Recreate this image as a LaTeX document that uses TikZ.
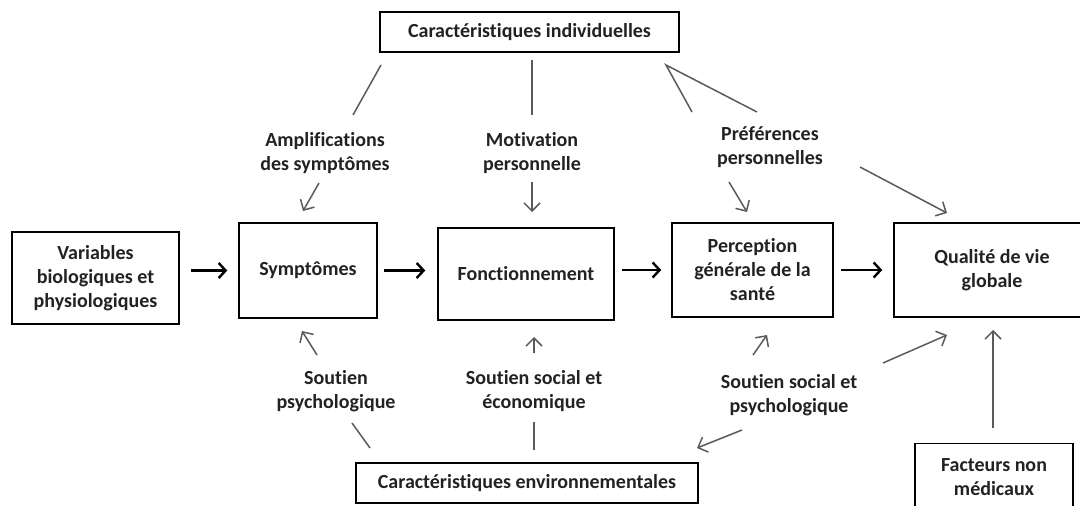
\documentclass[tikz,border=0pt]{standalone}
\usepackage{fontspec}
\setmainfont[Ligatures=NoCommon]{Carlito}
\usetikzlibrary{arrows.meta}
\definecolor{linegray}{HTML}{5A5A5A}
\definecolor{textcol}{HTML}{222222}
\tikzset{
  box/.style={draw=black, line width=1.4pt, fill=white, align=center, inner sep=2pt, text=textcol, font=\fontsize{20}{24}\selectfont\bfseries},
  lbl/.style={align=center, inner sep=1pt, text=textcol, font=\fontsize{20}{23.5}\selectfont\bfseries},
  blackarrow/.style={draw=black, line width=2.4pt, -{Straight Barb[length=7pt,width=15pt,line width=2.4pt]}},
  grayline/.style={draw=linegray, line width=1.5pt},
  grayarrow/.style={draw=linegray, line width=1.5pt, -{Straight Barb[length=8pt,width=16pt,line width=1.5pt]}}
}
\begin{document}
\begin{tikzpicture}[x=1pt,y=-1pt]
\useasboundingbox (0,0) rectangle (1080,506);
\clip (0,0) rectangle (1080,506);
% boxes
\node[box, minimum width=299pt, minimum height=40pt] (indiv) at (529.5,32) {Caractéristiques individuelles};
\node[box, minimum width=167pt, minimum height=92pt] (var) at (95.5,278) {Variables\\biologiques et\\physiologiques};
\node[box, minimum width=138pt, minimum height=95pt] (sym) at (308,270.5) {Symptômes};
\node[box, minimum width=176pt, minimum height=92pt] (fonc) at (526,274) {Fonctionnement};
\node[box, minimum width=161pt, minimum height=94pt] (perc) at (752.5,270) {Perception\\générale de la\\santé};
\node[box, minimum width=196pt, minimum height=94pt] (qual) at (992,270) {Qualité de vie\\globale};
\node[box, minimum width=342pt, minimum height=40pt] (env) at (527,483) {Caractéristiques environnementales};
\node[box, minimum width=158pt, minimum height=80pt, anchor=north] (fact) at (994,443) {};
\node[lbl] (facttxt) at (994,477) {Facteurs non\\médicaux};
% labels
\node[lbl] (ampl) at (325,153) {Amplifications\\des symptômes};
\node[lbl] (motiv) at (532,153) {Motivation\\personnelle};
\node[lbl] (pref) at (770,147) {Préférences\\personnelles};
\node[lbl] (soutpsy) at (336,391) {Soutien\\psychologique};
\node[lbl] (soutse) at (534,391) {Soutien social et\\économique};
\node[lbl] (soutsp) at (789,395) {Soutien social et\\psychologique};
% black arrows
\draw[blackarrow, shorten <=11pt, shorten >=11pt] (var.east |- sym.west) -- (sym.west);
\draw[blackarrow, shorten <=6pt, shorten >=12pt] (sym.east) -- (fonc.west |- sym.east);
\draw[blackarrow, shorten <=7pt, shorten >=10pt] (fonc.east |- perc.west) -- (perc.west);
\draw[blackarrow, shorten <=7pt, shorten >=11pt] (perc.east) -- (qual.west);
% connector end points
\coordinate (a1) at (381,65);  \coordinate (a2) at (353,115);
\coordinate (a3) at (319,183); \coordinate (a4) at (303,211);
\coordinate (m1) at (532,60);  \coordinate (m2) at (532,115);
\coordinate (m3) at (532,182); \coordinate (m4) at (532,212);
\coordinate (p0) at (666,65);  \coordinate (p1) at (692,112); \coordinate (p2) at (757,112);
\coordinate (p3) at (729,182); \coordinate (p4) at (747,212);
\coordinate (p5) at (860,167); \coordinate (p6) at (947,213);
\coordinate (s1) at (370,448); \coordinate (s2) at (352,423);
\coordinate (s3) at (317,355); \coordinate (s4) at (302,331);
\coordinate (e1) at (534,450); \coordinate (e2) at (534,422);
\coordinate (e3) at (534,353); \coordinate (e4) at (534,337);
\coordinate (q1) at (742,430); \coordinate (q2) at (697,448);
\coordinate (q3) at (753,355); \coordinate (q4) at (767,335);
\coordinate (q5) at (883,363); \coordinate (q6) at (947,335);
\coordinate (f1) at (993,428); \coordinate (f2) at (993,330);
% gray connectors
\draw[grayline] (a1) -- (a2);
\draw[grayarrow] (a3) -- (a4);
\draw[grayline] (m1) -- (m2);
\draw[grayarrow] (m3) -- (m4);
\draw[grayline, line join=miter] (p1) -- (p0) -- (p2);
\draw[grayarrow] (p3) -- (p4);
\draw[grayarrow] (p5) -- (p6);
\draw[grayline] (s1) -- (s2);
\draw[grayarrow] (s3) -- (s4);
\draw[grayline] (e1) -- (e2);
\draw[grayarrow] (e3) -- (e4);
\draw[grayarrow] (q1) -- (q2);
\draw[grayarrow] (q3) -- (q4);
\draw[grayarrow] (q5) -- (q6);
\draw[grayarrow] (f1) -- (f2);
\end{tikzpicture}
\end{document}
